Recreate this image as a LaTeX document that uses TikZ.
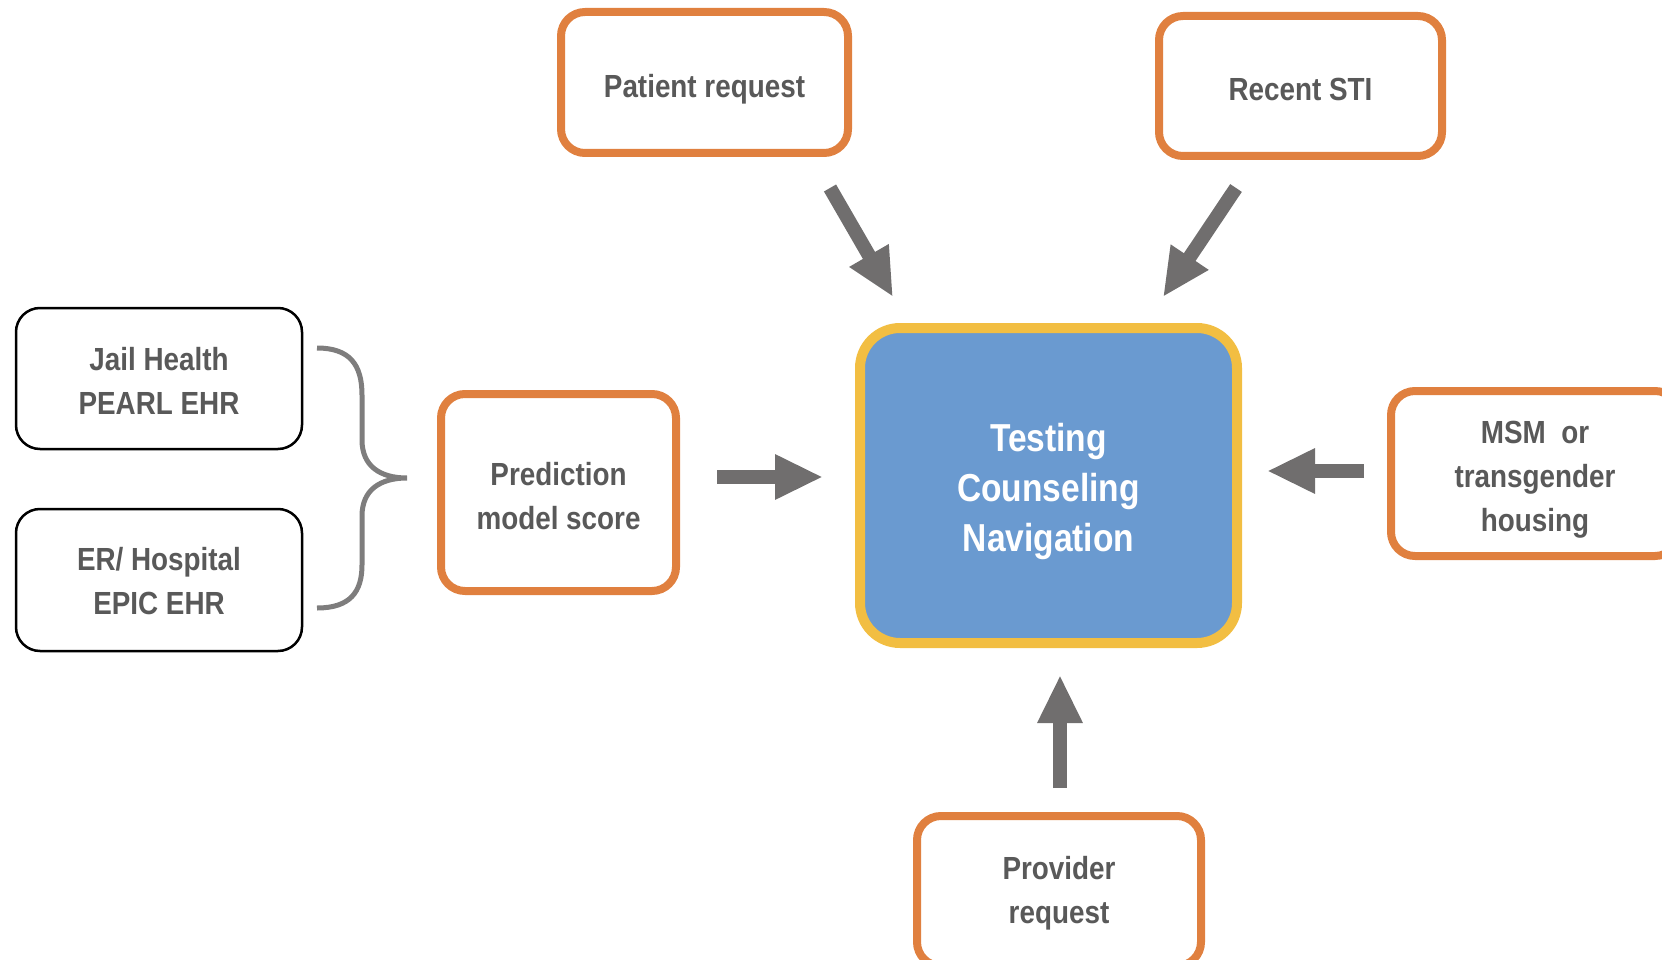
\documentclass[tikz,border=0pt]{standalone}
\usepackage{fontspec}
\setmainfont{Liberation Sans}
\usetikzlibrary{arrows.meta}
\definecolor{orng}{HTML}{E0803F}
\definecolor{yllw}{HTML}{F2BE42}
\definecolor{blu}{HTML}{6A9AD0}
\definecolor{txtg}{HTML}{595959}
\definecolor{arrg}{HTML}{706E6E}
\newcommand{\nartext}[2][0pt]{\raisebox{#1}[\height][\depth]{\scalebox{0.87}[1]{\begin{tabular}{@{}c@{}}#2\end{tabular}}}}
\begin{document}
\begin{tikzpicture}[x=1pt,y=-1pt,
  txt/.style={font=\fontsize{32}{44}\selectfont\bfseries, text=txtg, align=center},
  obox/.style={txt, draw=orng, line width=8pt, rounded corners=24pt, fill=white, inner sep=0pt},
  kbox/.style={txt, draw=black, line width=2.5pt, rounded corners=24pt, inner sep=0pt},
  cbox/.style={draw=yllw, fill=blu, line width=10pt, rounded corners=40pt, inner sep=0pt,
     font=\fontsize{39}{50}\selectfont\bfseries, text=white, align=center},
  bigarrow/.style={draw=arrg, line width=14pt, -{Triangle[length=48pt,width=42pt]}},
  bracestyle/.style={draw=arrg!90, line width=5pt}
]
\useasboundingbox (0,0) rectangle (1662,960);

\node[obox, minimum width=287pt, minimum height=141pt] (patient) at (704.5,82.5) {\nartext[-6pt]{Patient request}};
\node[obox, minimum width=283pt, minimum height=140pt] (sti) at (1300.5,86) {\nartext[-6pt]{Recent STI}};
\node[kbox, minimum width=286pt, minimum height=141pt] (jail) at (159,378.5) {\nartext[-5pt]{Jail Health\\PEARL EHR}};
\node[kbox, minimum width=286pt, minimum height=142pt] (er) at (159,580) {\nartext[-4pt]{ER/ Hospital\\EPIC EHR}};
\node[obox, minimum width=235pt, minimum height=197pt] (pred) at (558.5,492.5) {\nartext[-6pt]{Prediction\\model score}};
\node[cbox, minimum width=377pt, minimum height=315pt] (center) at (1048.5,485.5) {\raisebox{-6pt}[\height][\depth]{\scalebox{0.86}[1]{\begin{tabular}{@{}c@{}}Testing\\Counseling\\Navigation\end{tabular}}}};
\node[obox, minimum width=288pt, minimum height=165pt] (msm) at (1535,473.5) {\nartext[-5pt]{MSM\ \ or\\transgender\\housing}};
\node[obox, minimum width=284pt, minimum height=150pt] (prov) at (1059,891) {\nartext[-2pt]{Provider\\request}};

% brace
\draw[bracestyle] (317,348) .. controls (350,348) and (362,365) .. (362,395) -- (362,440)
  .. controls (362,466) and (380,478) .. (407,478)
  .. controls (380,478) and (362,490) .. (362,516) -- (362,565)
  .. controls (362,592) and (350,608) .. (317,608);

% arrow end points
\coordinate (a1s) at (717,477);  \coordinate (a1e) at (823,477);
\coordinate (a2s) at (830,188);  \coordinate (a2e) at (893,297);
\coordinate (a3s) at (1236,188); \coordinate (a3e) at (1163,297);
\coordinate (a4s) at (1364,471); \coordinate (a4e) at (1267,471);
\coordinate (a5s) at (1060,788); \coordinate (a5e) at (1060,675);

\draw[bigarrow] (a1s) -- (a1e);
\draw[bigarrow] (a2s) -- (a2e);
\draw[bigarrow] (a3s) -- (a3e);
\draw[bigarrow] (a4s) -- (a4e);
\draw[bigarrow] (a5s) -- (a5e);
\end{tikzpicture}
\end{document}
